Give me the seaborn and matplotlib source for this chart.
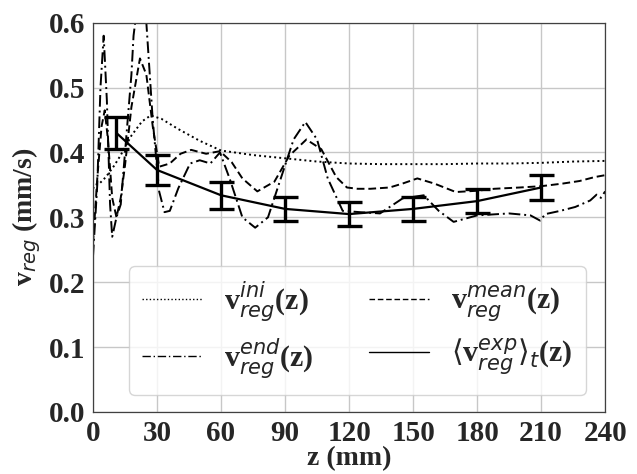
import numpy as np
import pandas as pd
import matplotlib
matplotlib.use("Agg")
import matplotlib.pyplot as plt
import seaborn as sns

# ---- data ----
z_exp = [11, 30, 60, 90, 120, 150, 180, 210]
v_exp = [0.430, 0.373, 0.334, 0.313, 0.305, 0.313, 0.325, 0.346]
err_exp = [0.024, 0.023, 0.021, 0.018, 0.018, 0.019, 0.018, 0.019]

z_ini = [0, 1, 3, 6, 10, 13, 18, 23, 27, 32, 40, 50, 60, 75, 90, 105, 120,
         135, 150, 165, 180, 195, 210, 225, 240]
v_ini = [0.344, 0.350, 0.352, 0.362, 0.380, 0.396, 0.426, 0.448, 0.457, 0.452,
         0.436, 0.418, 0.403, 0.396, 0.391, 0.386, 0.383, 0.382, 0.382, 0.382,
         0.383, 0.383, 0.384, 0.386, 0.387]

z_mean = [0, 2, 4, 5.5, 7, 9, 11, 13, 15, 18, 22, 25, 28, 31, 36, 41, 46, 53,
          59.5, 65, 70, 77, 85, 92, 100, 107, 114, 119, 124, 130, 139, 145,
          152, 160, 170, 180, 188, 200, 210, 220, 228, 235, 240]
v_mean = [0.26, 0.36, 0.44, 0.465, 0.42, 0.33, 0.30, 0.33, 0.38, 0.47, 0.545,
          0.52, 0.44, 0.378, 0.383, 0.398, 0.404, 0.398, 0.402, 0.385, 0.36,
          0.34, 0.355, 0.395, 0.42, 0.405, 0.362, 0.346, 0.344, 0.344, 0.346,
          0.352, 0.36, 0.352, 0.339, 0.341, 0.344, 0.346, 0.348, 0.352, 0.356,
          0.362, 0.365]

z_end = [0, 2, 3.5, 5, 6.5, 8, 9, 11, 13, 15, 18, 19, 22, 25, 28, 31, 33.5,
         36, 40, 45.5, 50, 55, 59.5, 64, 70, 76, 82, 88, 94, 99.5, 105, 110,
         117, 125, 134.5, 145, 155, 162, 169, 180, 195, 205, 209.5, 212, 219,
         226, 233, 236, 238, 240]
v_end = [0.24, 0.35, 0.50, 0.58, 0.48, 0.32, 0.27, 0.30, 0.32, 0.40, 0.52,
         0.58, 0.66, 0.60, 0.45, 0.34, 0.308, 0.31, 0.345, 0.383, 0.388, 0.383,
         0.40, 0.36, 0.30, 0.284, 0.30, 0.36, 0.42, 0.447, 0.42, 0.36, 0.31,
         0.308, 0.306, 0.329, 0.334, 0.31, 0.293, 0.303, 0.306, 0.303, 0.295,
         0.305, 0.31, 0.316, 0.326, 0.335, 0.33, 0.34]

x_ticks = [0, 30, 60, 90, 120, 150, 180, 210, 240]
y_ticks = [0.0, 0.1, 0.2, 0.3, 0.4, 0.5, 0.6]

lab_ini = r"v$_{reg}^{ini}$(z)"
lab_end = r"v$_{reg}^{end}$(z)"
lab_mean = r"v$_{reg}^{mean}$(z)"
lab_exp = r"$\langle$v$_{reg}^{exp}\rangle_{t}$(z)"

# ---- style ----
sns.set_style("whitegrid", {"axes.edgecolor": "0.25", "grid.color": "0.78"})
SERIF = ["Liberation Serif", "DejaVu Serif"]
plt.rcParams["font.family"] = SERIF
plt.rcParams["mathtext.fontset"] = "dejavusans"

fig = plt.figure(figsize=(6.37, 4.74), dpi=100)
ax = fig.add_axes([0.146, 0.131, 0.804, 0.821])

lw = 1.4
sns.lineplot(x=z_ini, y=v_ini, ax=ax, color="black", lw=lw,
             linestyle=(0, (1, 1.6)), estimator=None, sort=False)
sns.lineplot(x=z_end, y=v_end, ax=ax, color="black", lw=lw,
             linestyle=(0, (6, 2, 1, 2)), estimator=None, sort=False)
sns.lineplot(x=z_mean, y=v_mean, ax=ax, color="black", lw=lw,
             linestyle=(0, (4, 2)), estimator=None, sort=False)
sns.lineplot(x=z_exp, y=v_exp, ax=ax, color="black", lw=1.6,
             estimator=None, sort=False)
ax.errorbar(z_exp, v_exp, yerr=err_exp, fmt="none", ecolor="black",
            elinewidth=2.4, capsize=9, capthick=2.4)

lines = ax.get_lines()
handles = [lines[0], lines[1], lines[2], lines[3]]
labels = [lab_ini, lab_end, lab_mean, lab_exp]
leg = ax.legend(handles, labels, ncol=2, loc="lower left",
                bbox_to_anchor=(0.07, 0.044),
                prop={"family": SERIF, "weight": "bold", "size": 21.5},
                handlelength=2.0, handletextpad=0.75, columnspacing=1.85,
                labelspacing=0.45, borderpad=0.45, frameon=True,
                framealpha=0.8, borderaxespad=0)
for h in leg.legend_handles:
    h.set_linewidth(1.0)

ax.set_xlim(0, 240)
ax.set_ylim(0, 0.6)
ax.set_xticks(x_ticks)
ax.set_yticks(y_ticks)
ax.set_xticklabels([str(v) for v in x_ticks], fontsize=21, fontweight="bold")
ax.set_yticklabels([f"{v:.1f}" for v in y_ticks], fontsize=21, fontweight="bold")
ax.tick_params(length=3.5, width=0.8, color="0.25", pad=2)
ax.set_xlabel("z (mm)", fontsize=20, fontweight="bold", labelpad=0)
ax.set_ylabel(r"v$_{reg}$ (mm/s)", fontsize=20, fontweight="bold", labelpad=4)
ax.grid(True, lw=1.0)
for s in ax.spines.values():
    s.set_linewidth(0.9)

fig.savefig("out.png", dpi=100)
